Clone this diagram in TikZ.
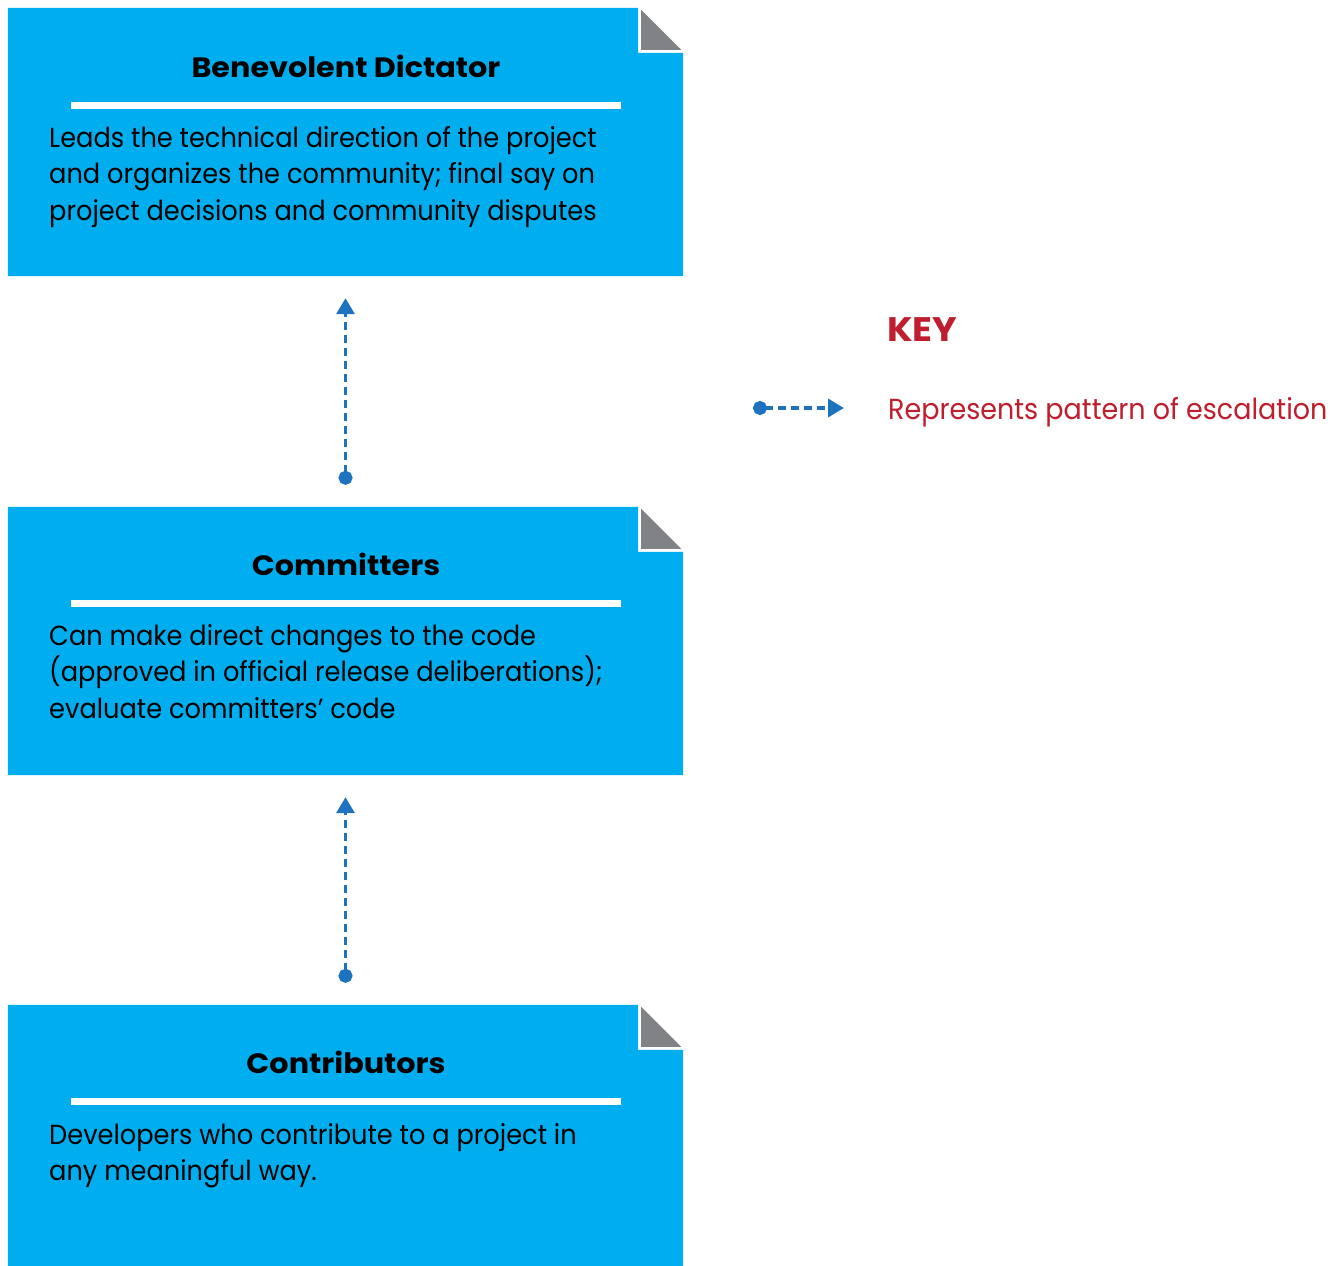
\documentclass[tikz,border=0pt]{standalone}
\usepackage{fontspec}
\setmainfont{Poppins}
\newfontfamily\bodyfont{Poppins}[FakeStretch=0.93]
\newfontfamily\titlefont{Poppins}[FakeStretch=1.08]
\usetikzlibrary{arrows.meta}
\definecolor{boxblue}{RGB}{0,174,239}
\definecolor{foldgray}{RGB}{128,130,133}
\definecolor{arrblue}{RGB}{30,115,190}
\definecolor{keyred}{RGB}{190,30,45}
\tikzset{
  boxnode/.style={inner sep=0pt, minimum width=675pt},
  titletext/.style={inner sep=0pt, anchor=base, font=\titlefont\fontsize{28}{32}\selectfont\bfseries},
  bodytext/.style={inner sep=0pt, anchor=base west, font=\bodyfont\fontsize{27.6}{32}\selectfont},
  esc/.style={draw=arrblue, line width=3.5pt, dash pattern=on 8pt off 5pt,
    {Circle[length=14pt]}-{Triangle[length=16pt,width=18pt]}},
}
\newcommand{\foldbox}[1]{%
  \fill[boxblue] (#1.north west) -- ([xshift=-45pt]#1.north east)
    -- ([xshift=-45pt,yshift=-45pt]#1.north east) -- ([yshift=-45pt]#1.north east)
    -- (#1.south east) -- (#1.south west) -- cycle;
  \fill[foldgray] ([xshift=-42pt,yshift=-2pt]#1.north east)
    -- ([xshift=-42pt,yshift=-42pt]#1.north east)
    -- ([xshift=-2pt,yshift=-42pt]#1.north east) -- cycle;
}
\begin{document}
\begin{tikzpicture}[x=1pt,y=-1pt]
\useasboundingbox (0,0) rectangle (1331,1266);
\fill[white] (0,0) rectangle (1331,1266);

% boxes
\node[boxnode, minimum height=268pt] (b1) at (345.5,142) {};
\node[boxnode, minimum height=268pt] (b2) at (345.5,641) {};
\node[boxnode, minimum height=261pt] (b3) at (345.5,1135.5) {};
\foldbox{b1}
\foldbox{b2}
\foldbox{b3}

% rules
\fill[white] (71,102) rectangle (621,109);
\fill[white] (71,600) rectangle (621,607);
\fill[white] (71,1098) rectangle (621,1105);

% titles
\node[titletext] (t1) at (346,77) {Benevolent Dictator};
\node[titletext] (t2) at (346,575) {Committers};
\node[titletext] (t3) at (346,1073) {Contributors};

% body
\node[bodytext] (d1a) at (49,147) {Leads the technical direction of the project};
\node[bodytext] (d1b) at (49,183.5) {and organizes the community; final say on};
\node[bodytext] (d1c) at (49,220) {project decisions and community disputes};
\node[bodytext] (d2a) at (49,645) {Can make direct changes to the code};
\node[bodytext] (d2b) at (49,681.5) {(approved in official release deliberations);};
\node[bodytext] (d2c) at (49,718) {evaluate committers’ code};
\node[bodytext] (d3a) at (49,1144) {Developers who contribute to a project in};
\node[bodytext] (d3b) at (49,1180.5) {any meaningful way.};

% escalation arrows
\draw[esc] ([yshift=22pt]b2.north) -- ([yshift=-22pt]b1.south);
\draw[esc] ([yshift=22pt]b3.north) -- ([yshift=-22pt]b2.south);

% key
\node[inner sep=0pt, anchor=base west, text=keyred, font=\titlefont\fontsize{34}{38}\selectfont\bfseries] (key) at (887,341) {KEY};
\node[inner sep=0pt, anchor=base west, text=keyred, font=\bodyfont\fontsize{29}{33}\selectfont] (keytxt) at (888,419) {Represents pattern of escalation};
\coordinate (ks) at (753,408);
\coordinate (ke) at (844,408);
\draw[esc] (ks) -- (ke);
\end{tikzpicture}
\end{document}
